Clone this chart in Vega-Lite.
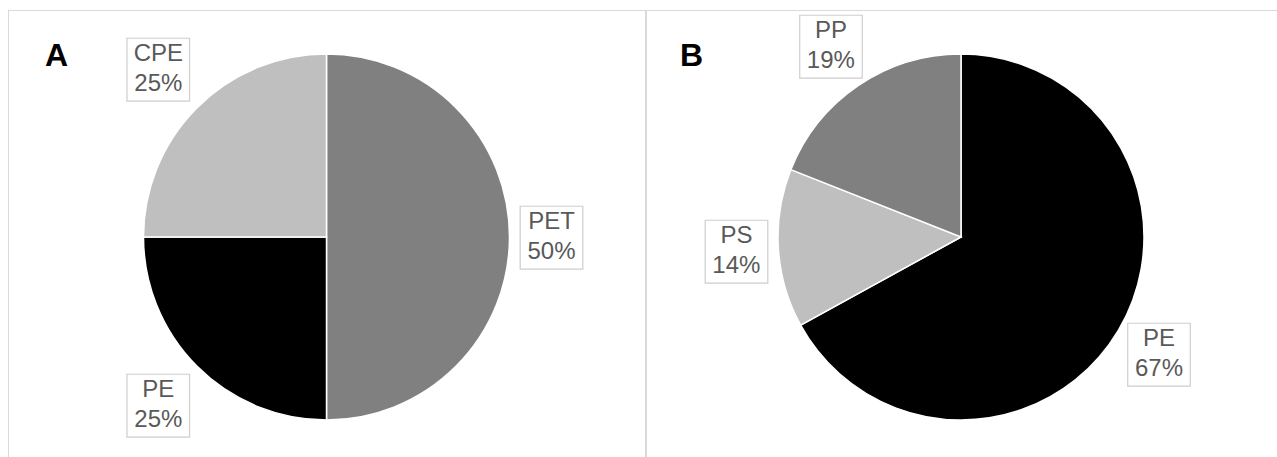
{
  "$schema": "https://vega.github.io/schema/vega-lite/v6.json",
  "padding": {"left": 7, "top": 1, "right": 0, "bottom": 0},
  "spacing": 0,
  "bounds": "flush",
  "background": "white",
  "config": {
    "view": {"stroke": null},
    "font": "Liberation Sans",
    "concat": {"spacing": 0}
  },
  "datasets": {
    "a": [
      {"polymer": "PET", "share": 50, "label": "PET\n50%", "order": 1},
      {"polymer": "PE", "share": 25, "label": "PE\n25%", "order": 2},
      {"polymer": "CPE", "share": 25, "label": "CPE\n25%", "order": 3}
    ],
    "b": [
      {"polymer": "PE", "share": 67, "label": "PE\n67%", "order": 1},
      {"polymer": "PS", "share": 14, "label": "PS\n14%", "order": 2},
      {"polymer": "PP", "share": 19, "label": "PP\n19%", "order": 3}
    ],
    "frame": [{"panel": "frame"}]
  },
  "hconcat": [
    {
      "width": 637,
      "height": 447,
      "title": {"text": "A", "anchor": "start", "frame": "group", "orient": "none", "baseline": "alphabetic", "dx": 37, "dy": 56, "fontSize": 32, "fontWeight": "bold", "color": "black", "font": "Liberation Sans"},
      "layer": [
        {
          "data": {"name": "frame"},
          "mark": {"type": "rule", "stroke": "#d9d9d9", "strokeWidth": 1},
          "encoding": {"y": {"value": 0.5}}
        },
        {
          "data": {"name": "frame"},
          "mark": {"type": "rule", "stroke": "#d9d9d9", "strokeWidth": 1},
          "encoding": {"x": {"value": 0.5}}
        },
        {
          "data": {"name": "a"},
          "mark": {"type": "arc", "outerRadius": 183, "stroke": "white", "strokeWidth": 1.5, "yOffset": 3.5},
          "encoding": {
            "theta": {"field": "share", "type": "quantitative", "stack": true},
            "order": {"field": "order", "type": "quantitative"},
            "color": {"field": "polymer", "type": "nominal", "legend": null,
              "scale": {"domain": ["PET", "PE", "CPE", "PS", "PP"], "range": ["#808080", "#000000", "#bfbfbf", "#bfbfbf", "#808080"]}}
          }
        },
        {
          "data": {"name": "a"},
          "mark": {"type": "text", "text": "■", "font": "DejaVu Sans", "fontSize": 82, "fill": "white", "stroke": "#d0d0d0", "strokeWidth": 1.2, "radius": {"expr": "194 + 31 / max(abs(sin((datum.share_start + datum.share_end) * PI / 100)), abs(cos((datum.share_start + datum.share_end) * PI / 100)))"}, "baseline": "middle", "align": "center", "yOffset": 3.5, "dy": -3},
          "encoding": {
            "theta": {"field": "share", "type": "quantitative", "stack": true},
            "order": {"field": "order", "type": "quantitative"}
          }
        },
        {
          "data": {"name": "a"},
          "mark": {"type": "text", "radius": {"expr": "194 + 31 / max(abs(sin((datum.share_start + datum.share_end) * PI / 100)), abs(cos((datum.share_start + datum.share_end) * PI / 100)))"}, "fontSize": 24, "lineHeight": 30, "lineBreak": "\n", "color": "#595959", "baseline": "middle", "align": "center", "yOffset": 3.5, "dy": -15},
          "encoding": {
            "theta": {"field": "share", "type": "quantitative", "stack": true},
            "order": {"field": "order", "type": "quantitative"},
            "text": {"field": "label"}
          }
        }
      ]
    },
    {
      "width": 632,
      "height": 447,
      "title": {"text": "B", "anchor": "start", "frame": "group", "orient": "none", "baseline": "alphabetic", "dx": 35, "dy": 56, "fontSize": 32, "fontWeight": "bold", "color": "black", "font": "Liberation Sans"},
      "layer": [
        {
          "data": {"name": "frame"},
          "mark": {"type": "rule", "stroke": "#d9d9d9", "strokeWidth": 1},
          "encoding": {"y": {"value": 0.5}}
        },
        {
          "data": {"name": "frame"},
          "mark": {"type": "rule", "stroke": "#d9d9d9", "strokeWidth": 2},
          "encoding": {"x": {"value": 1}}
        },
        {
          "data": {"name": "b"},
          "mark": {"type": "arc", "outerRadius": 183, "stroke": "white", "strokeWidth": 1.5, "yOffset": 3.5},
          "encoding": {
            "theta": {"field": "share", "type": "quantitative", "stack": true},
            "order": {"field": "order", "type": "quantitative"},
            "color": {"field": "polymer", "type": "nominal", "legend": null,
              "scale": {"domain": ["PET", "PE", "CPE", "PS", "PP"], "range": ["#808080", "#000000", "#bfbfbf", "#bfbfbf", "#808080"]}}
          }
        },
        {
          "data": {"name": "b"},
          "mark": {"type": "text", "text": "■", "font": "DejaVu Sans", "fontSize": 82, "fill": "white", "stroke": "#d0d0d0", "strokeWidth": 1.2, "radius": {"expr": "194 + 31 / max(abs(sin((datum.share_start + datum.share_end) * PI / 100)), abs(cos((datum.share_start + datum.share_end) * PI / 100)))"}, "baseline": "middle", "align": "center", "yOffset": 3.5, "dy": -3},
          "encoding": {
            "theta": {"field": "share", "type": "quantitative", "stack": true},
            "order": {"field": "order", "type": "quantitative"}
          }
        },
        {
          "data": {"name": "b"},
          "mark": {"type": "text", "radius": {"expr": "194 + 31 / max(abs(sin((datum.share_start + datum.share_end) * PI / 100)), abs(cos((datum.share_start + datum.share_end) * PI / 100)))"}, "fontSize": 24, "lineHeight": 30, "lineBreak": "\n", "color": "#595959", "baseline": "middle", "align": "center", "yOffset": 3.5, "dy": -15},
          "encoding": {
            "theta": {"field": "share", "type": "quantitative", "stack": true},
            "order": {"field": "order", "type": "quantitative"},
            "text": {"field": "label"}
          }
        }
      ]
    }
  ]
}
